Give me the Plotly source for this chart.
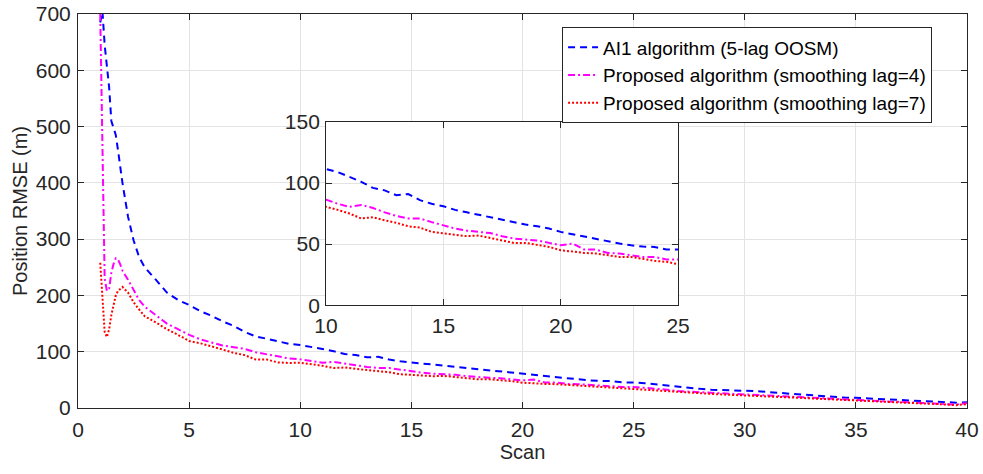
import plotly.graph_objects as go

scan = [1.0, 1.1, 1.2, 1.3, 1.4, 1.5, 1.6, 1.7, 1.8, 1.9, 2.0, 2.25, 2.5, 2.75, 3.0,
        3.5, 4.0, 4.5, 5.0, 5.5, 6.0, 6.5, 7.0, 7.5, 8.0, 8.5, 9.0, 9.5, 10.0,
        10.5, 11.0, 11.5, 12.0, 12.5, 13.0, 13.5, 14.0, 14.5, 15.0,
        15.5, 16.0, 16.5, 17.0, 17.5, 18.0, 18.5, 19.0, 19.5, 20.0,
        20.5, 21.0, 21.5, 22.0, 22.5, 23.0, 23.5, 24.0, 24.5, 25.0,
        25.5, 26.0, 26.5, 27.0, 27.5, 28.0, 28.5, 29.0, 29.5, 30.0,
        30.5, 31.0, 31.5, 32.0, 32.5, 33.0, 33.5, 34.0, 34.5, 35.0,
        35.5, 36.0, 36.5, 37.0, 37.5, 38.0, 38.5, 39.0, 39.5, 40.0]

ai1 = [685, 705, 645, 610, 570, 510, 497, 485, 458, 430, 400, 340, 298, 268, 250,
       228, 205, 192, 183, 172, 164, 154, 146, 135, 127, 123, 118, 114, 111.8,
       109, 105, 101, 96, 94, 90, 91, 86, 83, 81,
       78, 76, 74, 72, 70, 68, 66, 64.6, 62.7, 60,
       58, 56, 54, 52, 50.5, 49, 48, 47.7, 45.5, 45.5,
       44, 42, 39.5, 37, 35, 34, 32.5, 31.5, 31, 30.5,
       30, 28, 27, 25.5, 24, 22.5, 21.5, 20, 18.5, 18,
       17, 16, 15, 14, 13, 12, 11, 10, 9.5, 10]

lag4 = [700, 420, 230, 208, 212, 240, 256, 266, 264, 255, 244, 228, 210, 192, 180,
        165, 150, 140, 130, 122, 116, 111, 108, 105, 99, 95, 91, 88, 86.4,
        83, 80.5, 82, 79.6, 76, 73, 71, 71, 68, 65.5,
        62.7, 61, 60, 59, 56.5, 54.5, 53.7, 53, 51, 49,
        50.5, 45.5, 45.5, 42.8, 42.3, 41, 39.5, 39.5, 37.4, 37.4,
        36, 34, 32.5, 30, 29, 27.5, 26.5, 25.5, 24.5, 23.5,
        22.5, 22, 21, 20, 19, 18, 17, 16, 15, 14,
        13.5, 12.5, 11.5, 11, 10, 9, 8, 7, 6, 9]

lag7 = [258, 190, 135, 126, 140, 165, 185, 200, 208, 212, 215, 205, 188, 175, 163,
        152, 140, 130, 119, 115, 110, 104, 98, 94, 86, 86, 81, 80, 80.5,
        78, 75, 71, 72, 69.5, 67.4, 64.6, 63.5, 60, 59,
        58, 56.5, 57, 55, 52.4, 51, 51, 49.6, 47.7, 45,
        43.6, 42.8, 42.3, 41, 39.5, 39.5, 38, 36.3, 35.5, 33.5,
        33, 31.5, 30, 28.5, 27.5, 26, 25, 24, 23.5, 22.5,
        21.5, 20.5, 20, 19, 18, 17, 16, 15, 14.5, 13.5,
        12.5, 12, 11, 10, 9, 8, 7.5, 6, 5, 7]

names = ["AI1 algorithm (5-lag OOSM)",
         "Proposed algorithm (smoothing lag=4)",
         "Proposed algorithm (smoothing lag=7)"]
series = [ai1, lag4, lag7]
colors = ["#0000ff", "#ff00ff", "#ff0000"]
dashes = ["7px,5px", "7px,3px,2px,3px", "2px,2px"]
widths = [2, 2, 2]

fig = go.Figure()
for nm, ys, c, d, w in zip(names, series, colors, dashes, widths):
    fig.add_trace(go.Scatter(x=scan, y=ys, mode="lines", name=nm,
                             line=dict(color=c, dash=d, width=w),
                             xaxis="x", yaxis="y"))
for nm, ys, c, d, w in zip(names, series, colors, dashes, widths):
    fig.add_trace(go.Scatter(x=scan, y=ys, mode="lines", name=nm, showlegend=False,
                             line=dict(color=c, dash=d, width=w),
                             xaxis="x2", yaxis="y2"))

FONT = "Liberation Sans, Arial, sans-serif"
ax_common = dict(showline=True, linecolor="#262626", linewidth=1, mirror="ticks",
                 ticks="inside", ticklen=6, tickcolor="#262626", automargin=False,
                 showgrid=True, gridcolor="#e3e3e3", gridwidth=1, zeroline=False,
                 tickfont=dict(family=FONT, size=21, color="#262626"))

fig.update_layout(
    width=983, height=474,
    margin=dict(l=78, r=16, t=14, b=66),
    paper_bgcolor="white", plot_bgcolor="white",
    font=dict(family=FONT, color="#262626"),
    xaxis=dict(ax_common, range=[0, 40], dtick=5, tick0=0, ticklabelstandoff=3,
               title=dict(text="Scan", font=dict(size=20, color="#262626"), standoff=3)),
    yaxis=dict(ax_common, range=[0, 700], dtick=100, tick0=0, ticklabelstandoff=2,
               title=dict(text="Position RMSE (m)", font=dict(size=20, color="#262626"), standoff=2)),
    xaxis2=dict(ax_common, domain=[0.279, 0.675], anchor="y2", range=[10, 25], dtick=5, tick0=10,
                ticklabelstandoff=2),
    yaxis2=dict(ax_common, domain=[0.261, 0.726], anchor="x2", range=[0, 150], dtick=50, tick0=0,
                ticklabelstandoff=1),
    legend=dict(x=0.5445, y=0.966, xanchor="left", yanchor="top",
                bgcolor="white", bordercolor="#262626", borderwidth=1,
                font=dict(family=FONT, size=19, color="#000000"), tracegroupgap=0,
                itemwidth=30),
    showlegend=True,
)

fig.write_html("out.html")
